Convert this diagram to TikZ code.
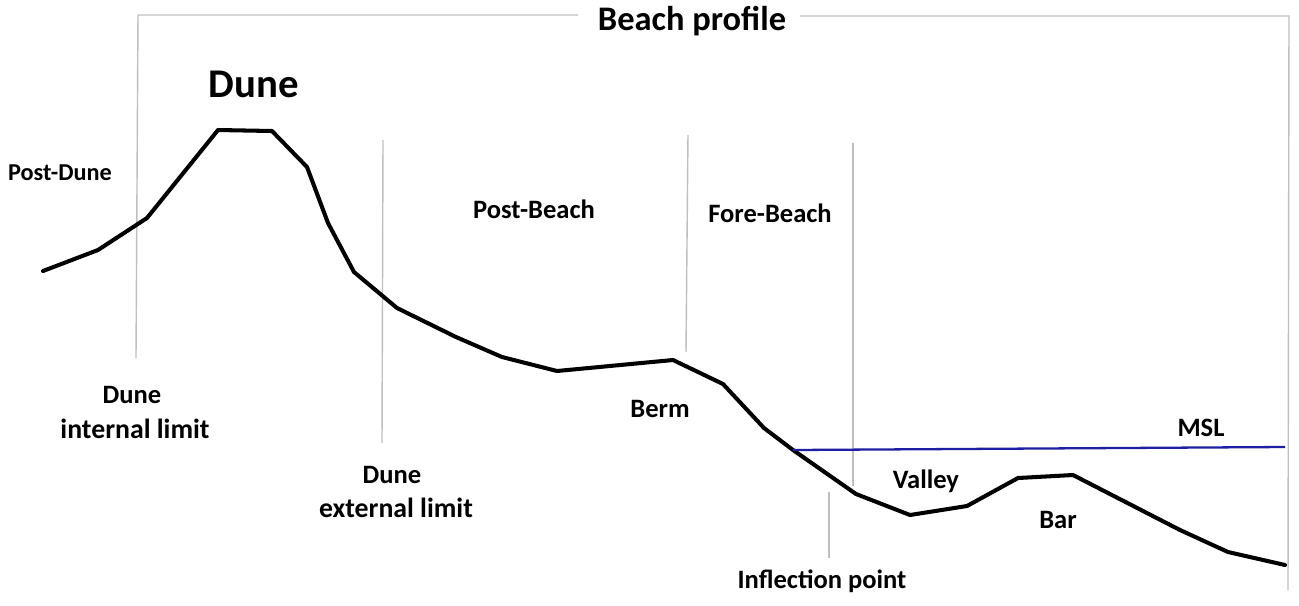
\documentclass[tikz,border=0pt]{standalone}
\usepackage{fontspec}
\setmainfont{Carlito}
\begin{document}
\begin{tikzpicture}[x=0.01cm,y=-0.01cm,
  lbl/.style={anchor=base,inner sep=0pt,font=\bfseries\fontsize{7.55}{9}\selectfont},
  lblw/.style={anchor=base,inner sep=0pt,font=\bfseries\fontsize{7.9}{9}\selectfont},
  lblsm/.style={anchor=base,inner sep=0pt,font=\bfseries\fontsize{6.9}{8}\selectfont},
  guide/.style={draw=black!25,line width=0.4pt},
  profile/.style={draw=black,line width=1.15pt,line join=round,line cap=round},
  msl/.style={draw=msblue,line width=0.65pt}]
\definecolor{msblue}{RGB}{30,30,165}
\useasboundingbox (0,0) rectangle (1299,605);
% bracket
\coordinate (bl) at (136,358);
\coordinate (tl) at (138,15);
\coordinate (tml) at (578,15);
\coordinate (tmr) at (800,16);
\coordinate (tr) at (1289,16);
\coordinate (br) at (1288,590);
\draw[guide] (bl) -- (tl) -- (tml);
\draw[guide] (tmr) -- (tr) -- (br);
% vertical limits
\coordinate (g1t) at (383,140); \coordinate (g1b) at (382,443);
\coordinate (g2t) at (688,135); \coordinate (g2b) at (686,352);
\coordinate (g3t) at (853,143); \coordinate (g3b) at (853,486);
\coordinate (g4t) at (829,492); \coordinate (g4b) at (829,558);
\draw[guide] (g1t) -- (g1b);
\draw[guide] (g2t) -- (g2b);
\draw[guide] (g3t) -- (g3b);
\draw[guide] (g4t) -- (g4b);
% profile
\draw[profile] (43,271) -- (98,250) -- (147,218) -- (218,130) -- (272,131) -- (307,167)
  -- (328,223) -- (354,272) -- (397,308) -- (456,337) -- (502,357) -- (557,371)
  -- (673,360) -- (723,384) -- (764,428) -- (793,450) -- (856,494) -- (910,515)
  -- (967,506) -- (1018,478) -- (1073,475) -- (1180,530) -- (1228,552) -- (1285,565);
% MSL
\coordinate (m1) at (793,450);
\coordinate (m2) at (1285,447);
\draw[msl] (m1) -- (m2);
% labels
\node[anchor=base,inner sep=0pt,font=\bfseries\fontsize{9.8}{11}\selectfont] (bp) at (692,30) {Beach profile};
\node[anchor=base,inner sep=0pt,font=\bfseries\fontsize{11.6}{13}\selectfont] (dune) at (254,97) {Dune};
\node[lblsm] (pd) at (60,180) {Post-Dune};
\node[lbl] (pb) at (534,218) {Post-Beach};
\node[lbl] (fb) at (770,222) {Fore-Beach};
\node[lbl] (dil1) at (132,403) {Dune};
\node[lblw] (dil2) at (135,438) {internal limit};
\node[lbl] (del1) at (392,483) {Dune};
\node[lblw] (del2) at (396,517) {external limit};
\node[lbl] (berm) at (660,417) {Berm};
\node[lbl] (valley) at (926,488) {Valley};
\node[lbl] (bar) at (1058,528) {Bar};
\node[lbl] (mslt) at (1201,436) {MSL};
\node[lbl] (ip) at (822,588) {Inflection point};
\end{tikzpicture}
\end{document}
